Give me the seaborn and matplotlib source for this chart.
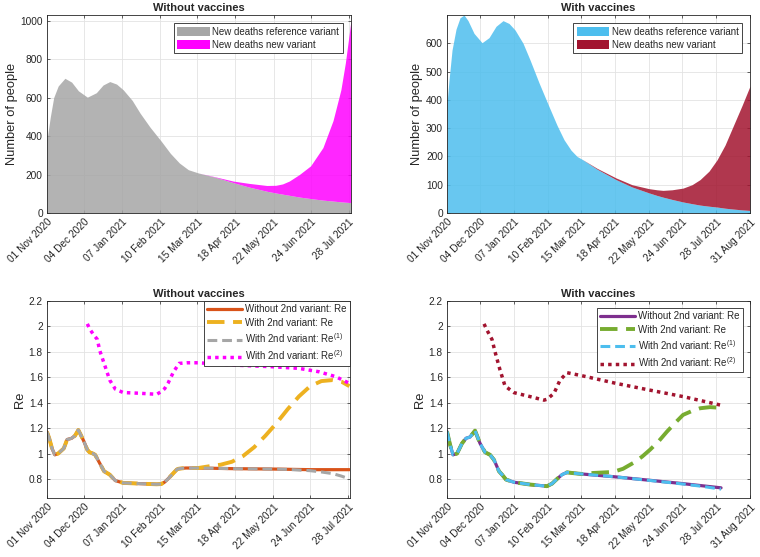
import matplotlib
matplotlib.use("Agg")
import matplotlib.pyplot as plt
import numpy as np
import pandas as pd
import seaborn as sns

# --------------------------------------------------------------------------- #
# Data (days since 01 Nov 2020)
# --------------------------------------------------------------------------- #
START = pd.Timestamp("2020-11-01")
TICK_DAYS = [0, 33, 67, 101, 134, 168, 202, 235, 269, 303]

# Top-left: new deaths, without vaccines
TL_DAYS = [0, 3, 6, 10, 16, 22, 28, 36, 44, 50, 56, 62, 68, 76, 83, 92, 102, 110,
           118, 126, 135, 150, 166, 180, 196, 204, 210, 216, 225, 235, 246, 255,
           262, 266, 271]
TL_TOTAL = [380, 500, 600, 660, 700, 680, 635, 602, 625, 665, 683, 670, 640, 585,
            519, 445, 372, 310, 260, 225, 208, 188, 166, 154, 143, 144, 151, 166,
            200, 245, 340, 480, 640, 780, 1000]
TL_REF = [380, 500, 600, 660, 700, 680, 635, 602, 625, 665, 683, 670, 640, 585,
          519, 445, 372, 310, 260, 225, 208, 186, 158, 135, 113, 104, 98, 92, 83,
          75, 67, 62, 58, 56, 54]

# Top-right: new deaths, with vaccines
TR_DAYS = [0, 2, 5, 9, 13, 17, 21, 27, 35, 42, 49, 56, 62, 68, 76, 83, 92, 102,
           110, 117, 124, 130, 135, 150, 169, 185, 202, 210, 216, 225, 236, 245,
           253, 262, 270, 278, 286, 295, 303]
TR_TOTAL = [388, 470, 576, 650, 690, 700, 680, 635, 602, 620, 660, 680, 670, 647,
            600, 541, 460, 376, 310, 259, 222, 200, 190, 158, 124, 100, 86, 82, 80,
            82, 88, 100, 118, 148, 188, 240, 306, 380, 449]
TR_REF = [388, 470, 576, 650, 690, 700, 680, 635, 602, 620, 660, 680, 670, 647,
          600, 541, 460, 376, 310, 259, 222, 200, 190, 155, 118, 92, 71, 62, 56,
          48, 39, 33, 28, 24, 21, 17, 14, 11, 9]

# Bottom-left: Re, without vaccines (shared part, then per-series tails)
BL_HEAD_DAYS = [0, 2, 4.5, 7, 10, 15, 18, 22, 25, 28, 30, 33, 36, 38, 41, 43, 47,
                51, 53, 56, 61, 68, 83, 98, 102, 105, 108, 113, 116, 118, 124, 135]
BL_HEAD_RE = [1.17, 1.12, 1.04, 0.99, 1.0, 1.04, 1.11, 1.12, 1.14, 1.185, 1.15,
              1.095, 1.03, 1.01, 1.0, 0.99, 0.925, 0.86, 0.85, 0.834, 0.787, 0.769,
              0.763, 0.758, 0.76, 0.775, 0.8, 0.847, 0.875, 0.881, 0.886, 0.886]
BL_BASE_TAIL_DAYS = [166, 201, 235, 270]
BL_BASE_TAIL_RE = [0.881, 0.878, 0.873, 0.873]
BL_RE_TAIL_DAYS = [145, 155, 165, 175, 185, 195, 205, 215, 225, 235, 245, 255, 263, 270]
BL_RE_TAIL = [0.9, 0.912, 0.935, 0.98, 1.05, 1.14, 1.24, 1.35, 1.45, 1.53, 1.57,
              1.578, 1.565, 1.53]
BL_RE1_TAIL_DAYS = [166, 201, 215, 235, 245, 255, 263, 270]
BL_RE1_TAIL = [0.881, 0.878, 0.875, 0.865, 0.855, 0.842, 0.822, 0.80]
BL_RE2_DAYS = [36, 38.5, 42, 45, 47, 52, 56, 61, 68, 83, 98, 102, 105, 108, 113,
               118, 125, 135, 166, 201, 225, 243, 258, 270]
BL_RE2 = [2.02, 1.975, 1.93, 1.897, 1.813, 1.683, 1.578, 1.507, 1.48, 1.474, 1.466,
          1.487, 1.51, 1.552, 1.643, 1.709, 1.714, 1.714, 1.696, 1.683, 1.67, 1.643,
          1.604, 1.552]

# Bottom-right: Re, with vaccines
BR_HEAD_DAYS = [0, 3, 6, 10, 15, 19, 23, 28, 33, 38, 43, 47, 52, 55, 59, 67, 83,
                100, 105, 110, 115, 120, 127, 135]
BR_HEAD_RE = [1.173, 1.07, 0.99, 1.0, 1.08, 1.12, 1.13, 1.18, 1.08, 1.01, 0.99,
              0.95, 0.86, 0.834, 0.795, 0.774, 0.756, 0.743, 0.763, 0.8, 0.834,
              0.852, 0.845, 0.839]
BR_BASE_TAIL_DAYS = [169, 202, 236, 274]
BR_BASE_TAIL_RE = [0.816, 0.79, 0.763, 0.73]
BR_RE_TAIL_DAYS = [146, 166, 176, 186, 195, 203, 212, 220, 228, 236, 245, 253, 263, 273]
BR_RE_TAIL = [0.847, 0.855, 0.88, 0.925, 0.975, 1.03, 1.1, 1.173, 1.24, 1.304,
              1.335, 1.356, 1.365, 1.36]
BR_RE1_TAIL_DAYS = [169, 202, 236, 255, 274]
BR_RE1_TAIL = [0.816, 0.789, 0.76, 0.742, 0.72]
BR_RE2_DAYS = [37, 40, 45, 48, 53, 58, 67, 83, 97, 100, 107, 113, 120, 135, 169,
               202, 236, 273]
BR_RE2 = [2.02, 1.97, 1.897, 1.80, 1.657, 1.531, 1.479, 1.448, 1.42, 1.427, 1.474,
          1.578, 1.636, 1.612, 1.552, 1.5, 1.448, 1.382]

# --------------------------------------------------------------------------- #
# Styling
# --------------------------------------------------------------------------- #
GREY = "#a6a6a6"
MAGENTA = "#ff00ff"
SKY = "#4dbeee"
WINE = "#a2142f"
ORANGE = "#d95319"
YELLOW = "#edb120"
PURPLE = "#7e2f8e"
GREEN = "#77ac30"

FS_TICK = 7.3
FS_LABEL = 9.3
FS_TITLE = 8
FS_LEGEND = 7

sns.set_style("ticks")
plt.rcParams["font.family"] = ["Liberation Sans", "DejaVu Sans"]
plt.rcParams["mathtext.default"] = "regular"


def to_dates(days):
    return START + pd.to_timedelta(np.asarray(days, dtype=float), unit="D")


def style_axes(ax, xmax, title, ylabel):
    ticks = to_dates([d for d in TICK_DAYS if d <= xmax])
    ax.set_xticks(ticks)
    ax.set_xticklabels([t.strftime("%d %b %Y") for t in ticks], rotation=45,
                       ha="right", rotation_mode="anchor", fontsize=FS_TICK)
    ax.set_xlim(to_dates([0])[0], to_dates([xmax])[0])
    ax.tick_params(axis="y", labelsize=FS_TICK)
    ax.tick_params(direction="in", length=2.5, width=0.5, top=True, right=True,
                   color="#262626", pad=3)
    ax.grid(True, color="#e3e3e3", linewidth=0.6)
    ax.set_axisbelow(True)
    for sp in ax.spines.values():
        sp.set_visible(True)
        sp.set_color("#262626")
        sp.set_linewidth(0.6)
    ax.set_title(title, fontsize=FS_TITLE, fontweight="bold", pad=3)
    ax.set_ylabel(ylabel, fontsize=FS_LABEL, labelpad=2)
    ax.set_xlabel("")


def legend(ax, pad, patches=False):
    kw = dict(handlelength=3.3, handleheight=1.0) if patches else dict(handlelength=3.6)
    leg = ax.legend(loc="upper right", fontsize=FS_LEGEND, fancybox=False,
                    framealpha=1, edgecolor="#262626", borderaxespad=pad,
                    labelspacing=0.35, handletextpad=0.3, borderpad=0.35, **kw)
    leg.get_frame().set_linewidth(0.6)


def deaths_panel(ax, days, total, ref, c_ref, c_new, xmax, ymax, yticks, title):
    d = to_dates(days)
    ax.fill_between(d, 0, ref, color=c_ref, alpha=0.85, lw=0,
                    label="New deaths reference variant")
    ax.fill_between(d, ref, total, color=c_new, alpha=0.85, lw=0,
                    label="New deaths new variant")
    ax.set_ylim(0, ymax)
    ax.set_yticks(yticks)
    style_axes(ax, xmax, title, "Number of people")
    legend(ax, 0.85, patches=True)
    for h, c in zip(ax.get_legend().get_patches(), (c_ref, c_new)):
        h.set_alpha(1)
        h.set_facecolor(c)


def re_panel(ax, head_d, head_v, base_d, base_v, re_d, re_v, re1_d, re1_v,
             re2_d, re2_v, colors, xmax, title, pad):
    c_base, c_re, c_re1, c_re2 = colors
    series = [
        (head_d + base_d, head_v + base_v, c_base, "-", 2.3, "Without 2nd variant: Re"),
        (head_d + re_d, head_v + re_v, c_re, (0, (4.5, 2.2)), 2.8, "With 2nd variant: Re"),
        (head_d + re1_d, head_v + re1_v, c_re1, (0, (3.2, 1.6)), 2.2,
         "With 2nd variant: Re$^{(1)}$"),
        (re2_d, re2_v, c_re2, (0, (1, 1.2)), 2.5, "With 2nd variant: Re$^{(2)}$"),
    ]
    for dd, vv, c, ls, lw, lab in series:
        sns.lineplot(x=to_dates(dd), y=vv, ax=ax, color=c, linestyle=ls, lw=lw,
                     label=lab, estimator=None, sort=False)
    ax.set_ylim(0.65, 2.2)
    ax.set_yticks(np.arange(0.8, 2.21, 0.2))
    ax.set_yticklabels(["0.8", "1", "1.2", "1.4", "1.6", "1.8", "2", "2.2"])
    style_axes(ax, xmax, title, "Re")
    legend(ax, pad)


fig = plt.figure(figsize=(7.6, 5.57), dpi=100)
ax_tl = fig.add_axes([0.0618, 0.6176, 0.400, 0.3555])
ax_tr = fig.add_axes([0.5882, 0.6176, 0.3987, 0.3555])
ax_bl = fig.add_axes([0.0618, 0.1059, 0.3987, 0.3537])
ax_br = fig.add_axes([0.5882, 0.1059, 0.3987, 0.3537])

deaths_panel(ax_tl, TL_DAYS, TL_TOTAL, TL_REF, GREY, MAGENTA, 271, 1029,
             range(0, 1001, 200), "Without vaccines")
deaths_panel(ax_tr, TR_DAYS, TR_TOTAL, TR_REF, SKY, WINE, 303, 700,
             range(0, 601, 100), "With vaccines")

re_panel(ax_bl, BL_HEAD_DAYS, BL_HEAD_RE, BL_BASE_TAIL_DAYS, BL_BASE_TAIL_RE,
         BL_RE_TAIL_DAYS, BL_RE_TAIL, BL_RE1_TAIL_DAYS, BL_RE1_TAIL,
         BL_RE2_DAYS, BL_RE2, (ORANGE, YELLOW, GREY, MAGENTA), 270.5,
         "Without vaccines", 0.0)
re_panel(ax_br, BR_HEAD_DAYS, BR_HEAD_RE, BR_BASE_TAIL_DAYS, BR_BASE_TAIL_RE,
         BR_RE_TAIL_DAYS, BR_RE_TAIL, BR_RE1_TAIL_DAYS, BR_RE1_TAIL,
         BR_RE2_DAYS, BR_RE2, (PURPLE, GREEN, SKY, WINE), 303,
         "With vaccines", 0.7)

fig.savefig("out.png", dpi=100)
